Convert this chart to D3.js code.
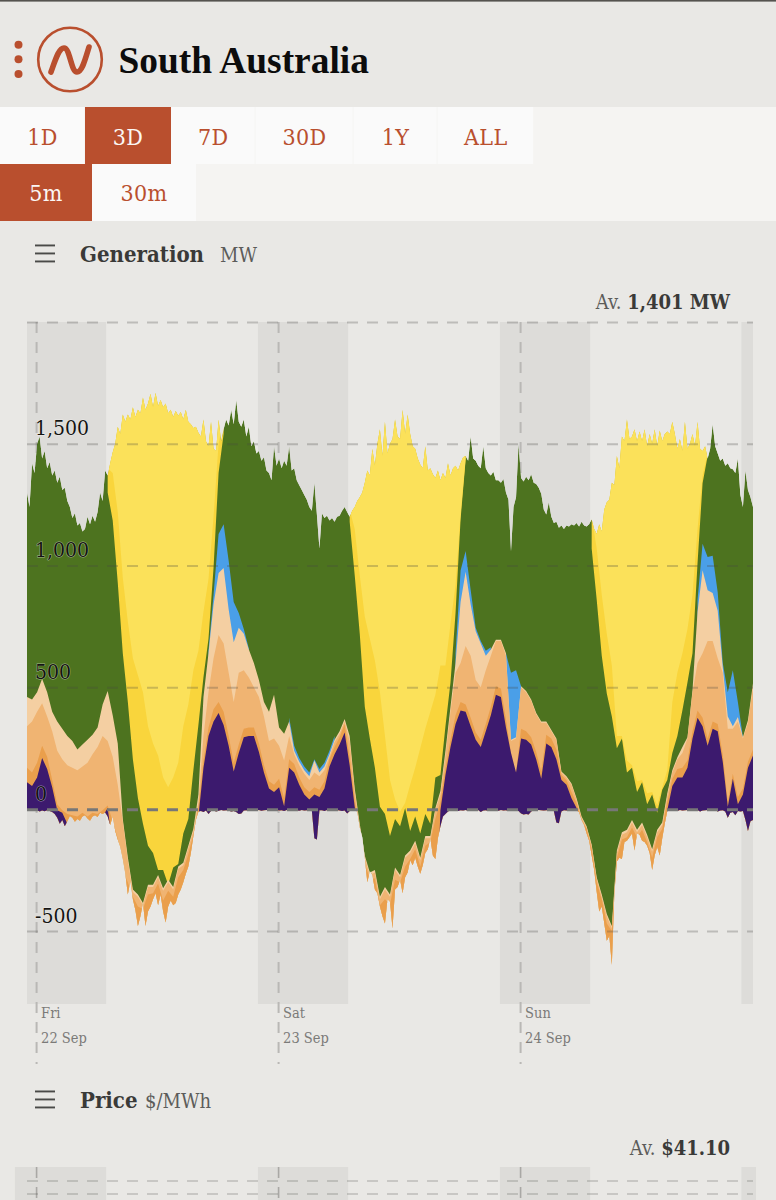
<!DOCTYPE html>
<html>
<head>
<meta charset="utf-8">
<script src="https://cdn.jsdelivr.net/npm/d3@7"></script>
<style>
  html, body { margin: 0; padding: 0; background: #e9e8e5; overflow: hidden; }
  svg { display: block; }
  .serif { font-family: "DejaVu Serif Condensed", "DejaVu Serif", serif; }
</style>
</head>
<body>
<svg id="page" width="776" height="1200"></svg>
<script>
// South Australia generation, three days at 15 and 30 minute resolution.
// Levels are cumulative MW: each array is the upper edge of that fuel in the stack.
const regionName = "South Australia";
const rangeButtons = ["1D", "3D", "7D", "30D", "1Y", "ALL"];
const intervalButtons = ["5m", "30m"];
const dayNames = ["Fri", "Sat", "Sun"];
const dayDates = ["22 Sep", "23 Sep", "24 Sep"];
const dayHours = [0, 24, 48];
const nightStartHours = [-1, 21.9, 45.9, 69.85];
const nightEndHours = [6.85, 30.85, 54.85, 71];
const yTicks = [-500, 0, 500, 1000, 1500, 2000];
const yLabels = [-500, 0, 500, 1000, 1500];

// Top of the whole stack, 15 minute steps
const totalLevel = [
  1300,1240,1420,1380,1500,1530,1440,1470,1400,1425,
  1370,1390,1340,1365,1310,1320,1265,1240,1195,1215,
  1165,1175,1140,1150,1200,1170,1205,1180,1220,1300,
  1265,1390,1370,1420,1465,1500,1570,1540,1620,1590,
  1620,1600,1650,1610,1640,1625,1690,1640,1665,1705,
  1650,1710,1655,1680,1650,1665,1625,1640,1610,1635,
  1615,1630,1600,1640,1590,1580,1565,1570,1545,1530,
  1600,1510,1490,1590,1480,1470,1600,1510,1560,1600,
  1575,1640,1580,1680,1590,1570,1600,1530,1570,1490,
  1510,1460,1470,1430,1445,1390,1380,1350,1490,1410,
  1440,1400,1430,1410,1490,1390,1400,1350,1330,1310,
  1290,1270,1240,1225,1340,1210,1070,1215,1195,1205,
  1185,1195,1180,1200,1205,1225,1240,1220,1200,1225,
  1240,1265,1280,1300,1340,1390,1370,1480,1410,1500,
  1560,1450,1590,1460,1500,1520,1600,1530,1520,1640,
  1540,1620,1540,1490,1480,1440,1415,1400,1490,1390,
  1400,1375,1360,1390,1350,1380,1360,1420,1370,1400,
  1410,1390,1420,1445,1450,1430,1530,1440,1430,1410,
  1400,1490,1400,1380,1370,1385,1350,1350,1340,1355,
  1300,1270,1060,1240,1280,1500,1360,1345,1365,1350,
  1375,1340,1335,1320,1295,1230,1210,1260,1200,1175,
  1180,1155,1165,1150,1165,1160,1170,1165,1175,1160,
  1180,1165,1160,1170,1190,1150,1130,1170,1140,1230,
  1260,1270,1340,1330,1450,1400,1530,1510,1600,1520,
  1530,1560,1510,1550,1510,1560,1490,1540,1500,1560,
  1490,1555,1510,1540,1550,1540,1590,1540,1480,1520,
  1470,1590,1480,1500,1540,1490,1590,1480,1470,1490,
  1440,1480,1580,1490,1460,1430,1440,1410,1420,1400,
  1395,1380,1440,1290,1240,1390,1310,1280,1240
];

// Bottom of the stack (net exports and charging), 15 minute steps
const baseLevel = [
  -3,-6,-4,-8,-5,-10,-6,-9,-5,-8,
  -12,-20,-35,-60,-45,-70,-50,-28,-35,-52,
  -40,-48,-30,-25,-38,-48,-30,-25,-32,-15,
  -20,-14,-30,-65,-30,-90,-125,-155,-205,-265,
  -350,-295,-370,-415,-480,-440,-385,-480,-420,-400,
  -370,-345,-395,-350,-420,-465,-400,-375,-395,-385,
  -350,-330,-300,-265,-235,-180,-110,-45,-10,-8,
  -12,-6,-20,-8,-5,-10,-7,-4,-6,-5,
  -6,-10,-8,-12,-20,-18,-6,-5,-8,-4,
  -5,-6,-4,-7,-5,-4,-6,-8,-5,-4,
  -6,-5,-8,-4,-5,-6,-4,-5,-7,-4,
  -6,-5,-4,-6,-120,-125,-5,-5,-8,-4,
  -6,-5,-6,-4,-6,-8,-6,-18,-8,-4,
  -5,-10,-75,-115,-200,-300,-255,-270,-330,-345,
  -400,-440,-470,-370,-380,-490,-330,-320,-290,-345,
  -280,-260,-210,-230,-200,-235,-265,-230,-180,-165,
  -120,-190,-205,-120,-70,-30,-20,-10,-5,-6,
  -4,-8,-5,-6,-4,-7,-5,-8,-5,-4,
  -12,-6,-5,-8,-4,-6,-5,-7,-4,-6,
  -5,-8,-4,-6,-5,-8,-18,-22,-20,-22,
  -10,-5,-6,-4,-5,-6,-5,-4,-8,-8,
  -55,-58,-10,-5,-6,-4,-5,-6,-5,-12,
  -45,-65,-100,-130,-190,-250,-340,-420,-400,-470,
  -540,-520,-640,-345,-215,-200,-205,-135,-130,-115,
  -100,-170,-100,-105,-130,-135,-150,-180,-250,-190,
  -155,-190,-120,-60,-8,-4,-6,-5,-8,-4,
  -6,-5,-4,-8,-5,-6,-4,-10,-6,-5,
  -4,-8,-6,-5,-10,-6,-5,-10,-35,-15,
  -12,-25,-8,-10,-8,-45,-90,-50,-45
];

// Everything below runs in 30 minute steps. null marks hours when a fuel is not running.
const importsLevel = [
  110,95,130,210,165,90,-5,-15,-60,-80,
  -80,-80,-80,-80,-80,-30,5,-150,-600,-600,
  -600,-600,-600,-600,-600,-600,-600,-600,-600,-600,
  -600,-600,-600,-600,-30,170,300,360,395,345,
  260,155,230,295,300,300,235,150,85,70,
  90,12,170,150,100,60,40,60,50,85,
  175,225,265,315,180,10,-120,-600,-600,-600,
  -600,-600,-600,-600,-600,-600,-600,-600,-600,-600,
  -600,-600,-5,140,255,350,405,400,340,285,
  255,320,385,470,460,335,230,150,290,285,
  265,205,125,270,255,205,120,100,45,5,
  -60,-150,-700,-700,-700,-700,-700,-700,-700,-700,
  -700,-700,-700,-700,-700,-700,-700,-5,95,130,
  130,170,290,375,340,260,330,320,195,10,
  125,20,60,170,220
];

const batteryLevel = [
  170,150,190,260,215,120,20,-5,-20,-25,
  -30,-15,-30,-15,-20,-5,15,-50,-120,-250,
  -300,-360,-400,-410,-350,-345,-305,-375,-335,-360,
  -280,-250,-185,-105,5,200,335,410,440,400,
  300,190,265,330,335,335,270,180,115,100,
  125,45,205,185,130,90,70,90,80,115,
  205,255,295,350,215,40,-90,-225,-285,-285,
  -395,-370,-390,-290,-300,-235,-205,-165,-235,-150,
  -135,-40,30,170,285,385,440,430,375,315,
  285,350,420,505,495,370,230,150,330,320,
  295,235,155,305,290,245,140,120,70,25,
  -45,-80,-165,-300,-370,-470,-500,-200,-125,-115,
  -75,-115,-85,-135,-200,-115,-80,30,125,165,
  170,200,320,405,375,290,360,350,225,30,
  145,50,85,195,245
];

const gasCcgtLevel = [
  340,360,400,435,380,320,240,205,180,170,
  160,175,190,225,255,300,280,215,100,-50,
  -210,-340,-360,-395,-320,-320,-280,-335,-300,-330,
  -245,-230,-160,-90,30,300,480,620,715,680,
  560,440,560,570,540,500,460,380,280,290,
  260,200,300,225,180,145,120,150,135,160,
  215,275,310,360,280,75,-70,-200,-270,-260,
  -370,-330,-360,-250,-280,-200,-180,-140,-210,-120,
  -120,-5,60,220,400,560,600,670,630,530,
  500,570,630,690,690,630,280,290,500,480,
  445,390,355,355,320,285,150,130,100,40,
  -35,-75,-150,-285,-360,-440,-490,-180,-105,-95,
  -55,-95,-65,-115,-175,-95,-65,55,150,205,
  230,290,480,600,640,690,690,620,560,330,
  330,360,290,355,500
];

const gasOcgtLevel = [
  460,450,480,535,480,400,360,330,300,280,
  245,265,285,305,335,430,485,385,270,-40,
  -197,-330,-350,-385,-310,-310,-270,-325,-290,-320,
  -235,-220,-150,-80,60,460,640,840,970,990,
  820,685,745,720,655,600,530,440,400,470,
  335,310,360,240,195,160,135,200,150,175,
  225,285,320,370,300,85,-60,-190,-260,-250,
  -360,-320,-350,-240,-270,-190,-170,-130,-200,-110,
  -110,5,75,240,420,600,850,975,840,730,
  680,630,655,695,695,640,285,295,505,485,
  450,395,360,360,325,290,155,135,105,45,
  -30,-70,-145,-280,-350,-430,-480,-170,-95,-85,
  -45,-85,-55,-105,-165,-85,-55,65,160,213,
  255,295,488,810,981,899,887,815,583,380,
  340,378,295,365,517
];

const dischargeLevel = [
  null,null,null,null,null,null,null,null,null,null,
  null,null,null,null,null,null,null,null,null,null,
  null,null,null,null,null,null,null,null,null,null,
  null,null,null,null,null,null,650,880,1130,1170,
  1020,850,805,740,660,null,null,null,null,null,
  null,null,375,260,210,175,150,205,165,190,
  240,300,null,null,null,null,null,null,null,null,
  null,null,null,null,null,null,null,null,null,null,
  null,null,null,null,null,640,980,1060,900,745,
  690,650,665,null,null,640,560,570,505,null,
  null,null,null,null,null,null,null,null,null,null,
  null,null,null,null,null,null,null,null,null,null,
  null,null,null,null,null,null,null,null,null,null,
  null,null,null,860,1090,1035,1040,890,600,480,
  570,440,295,null,null
];

const windLevel = [
  null,null,null,null,null,null,null,null,null,null,
  null,null,null,null,null,null,1300,1185,930,640,
  440,205,45,-60,-150,-180,-250,-250,-310,-240,
  -225,-100,-40,160,345,541,700,990,1380,1540,
  null,null,null,null,null,null,null,null,null,null,
  null,null,null,null,null,null,null,null,null,null,
  null,null,null,null,1180,960,720,420,290,170,
  10,-20,-110,-40,-70,5,-90,-30,-100,-20,
  -60,130,140,340,520,805,1190,1433,null,null,
  null,null,null,null,null,null,null,null,null,null,
  null,null,null,null,null,null,null,null,null,null,
  null,null,1070,860,630,475,380,250,290,150,
  170,70,110,20,60,-15,80,120,230,300,
  406,520,640,1010,1338,1450,null,null,null,null,
  null,null,null,null,null
];

const utilitySolarLevel = [
  null,null,null,null,null,null,null,null,null,null,
  null,null,null,null,null,null,1400,1380,1220,950,
  770,620,550,480,340,270,220,130,90,130,
  190,340,430,570,650,810,945,1200,1500,1600,
  null,null,null,null,null,null,null,null,null,null,
  null,null,null,null,null,null,null,null,null,null,
  null,null,null,null,1230,1150,960,790,700,610,
  480,300,120,40,-10,25,100,170,250,330,
  400,470,590,590,760,920,1210,1440,null,null,
  null,null,null,null,null,null,null,null,null,null,
  null,null,null,null,null,null,null,null,null,null,
  null,null,1200,1070,880,720,590,300,300,200,
  180,115,120,65,70,15,90,160,440,560,
  640,740,880,1150,1370,1460,null,null,null,null,
  null,null,null,null,null
];

const ink = "#b94f2e";
const startHour = -1, endHour = 71;
const dateAt = h => new Date(Date.UTC(2023, 8, 22) + h * 3600e3);

const svg = d3.select("#page");

// Scales shared by the generation and price panels
const x = d3.scaleUtc().domain([dateAt(startHour), dateAt(endHour)]).range([27, 753]);
const y = d3.scaleLinear().domain([-800, 2000]).range([1004, 322]);

// Turn an evenly stepped level array into [hour, level] pairs
const series = levels => levels.map((v, i) => [startHour + (endHour - startHour) * i / (levels.length - 1), v]);

/* ---------- header ---------- */
const header = svg.append("g");
header.append("rect").attr("width", 776).attr("height", 1.6).attr("fill", "#55534f");
[44.7, 59.2, 74].forEach(cy => header.append("circle").attr("cx", 18.5).attr("cy", cy).attr("r", 4).attr("fill", ink));
header.append("circle").attr("cx", 70).attr("cy", 59.5).attr("r", 31.8)
  .attr("fill", "none").attr("stroke", ink).attr("stroke-width", 2.6);
header.append("path").attr("d", "M51,72 C56,58 59,48 64,48 C70,48 71,72 77,72 C82,72 85,60 89,47")
  .attr("fill", "none").attr("stroke", ink).attr("stroke-width", 5.6).attr("stroke-linecap", "round");
header.append("text").text(regionName)
  .attr("x", 118.5).attr("y", 73).attr("font-family", "'Liberation Serif', serif")
  .attr("font-weight", 700).attr("font-size", 37.4).attr("fill", "#0c0c0c");

/* ---------- range and interval buttons ---------- */
const rangeEdges = [0, 85, 171, 255.5, 353.5, 437.5, 534];
const intervalEdges = [0, 92, 196];
const buttonText = (sel, cx, cyy, label, color) => sel.append("text").attr("class", "serif")
  .text(label).attr("x", cx).attr("y", cyy).attr("text-anchor", "middle")
  .attr("font-size", 23).attr("letter-spacing", 0.4).attr("fill", color);

svg.append("rect").attr("x", 0).attr("y", 107).attr("width", 776).attr("height", 114).attr("fill", "#f5f4f2");
rangeButtons.forEach((label, i) => {
  const on = label === "3D";
  svg.append("rect").attr("x", rangeEdges[i]).attr("y", 107)
    .attr("width", rangeEdges[i + 1] - rangeEdges[i] - (on ? 0 : 0.8)).attr("height", 57)
    .attr("fill", on ? ink : "#fafafa");
  buttonText(svg, (rangeEdges[i] + rangeEdges[i + 1]) / 2, 145, label, on ? "#fbf7f4" : ink);
});
intervalButtons.forEach((label, i) => {
  const on = label === "5m";
  svg.append("rect").attr("x", intervalEdges[i]).attr("y", 164)
    .attr("width", intervalEdges[i + 1] - intervalEdges[i]).attr("height", 57)
    .attr("fill", on ? ink : "#fafafa");
  buttonText(svg, (intervalEdges[i] + intervalEdges[i + 1]) / 2, 201, label, on ? "#fbf7f4" : ink);
});

/* ---------- panel titles ---------- */
function panelTitle(cy, title, titleX, unit, unitX) {
  [-8, 0, 8].forEach(d => svg.append("rect").attr("x", 35).attr("y", cy + d - 1)
    .attr("width", 20).attr("height", 1.9).attr("fill", "#4a4a48"));
  svg.append("text").attr("class", "serif").text(title).attr("x", titleX).attr("y", cy + 8)
    .attr("font-size", 22).attr("font-weight", 700).attr("fill", "#3a3a38");
  svg.append("text").attr("class", "serif").text(unit).attr("x", unitX).attr("y", cy + 8)
    .attr("font-size", 20).attr("fill", "#5c5c5a");
}
function average(cy, prefix, value) {
  const t = svg.append("text").attr("class", "serif").attr("x", 730).attr("y", cy)
    .attr("text-anchor", "end").attr("font-size", 20).attr("fill", "#5c5c5a");
  t.append("tspan").text(prefix + " ");
  t.append("tspan").text(value).attr("font-weight", 700).attr("fill", "#3a3a38");
}
panelTitle(253.5, "Generation", 80, "MW", 220);
panelTitle(1099.5, "Price", 80, "$/MWh", 145);
average(309, "Av.", "1,401 MW");
average(1155, "Av.", "$41.10");

/* ---------- night shading ---------- */
const nightFill = "#dddcd9";
nightStartHours.forEach((h, i) => {
  svg.append("rect").attr("x", x(dateAt(h))).attr("y", 322)
    .attr("width", x(dateAt(nightEndHours[i])) - x(dateAt(h))).attr("height", 682)
    .attr("fill", nightFill);
});

/* ---------- day markers ---------- */
dayHours.forEach((h, i) => {
  const px = x(dateAt(h)) - 0.5;
  svg.append("line").attr("x1", px).attr("x2", px).attr("y1", 322).attr("y2", 1064)
    .attr("stroke", "#b9b8b5").attr("stroke-width", 2).attr("stroke-dasharray", "11 9");
  svg.append("text").attr("class", "serif").text(dayNames[i]).attr("x", px + 4.5).attr("y", 1018)
    .attr("font-size", 14.5).attr("fill", "#7b7a78");
  svg.append("text").attr("class", "serif").text(dayDates[i]).attr("x", px + 4.5).attr("y", 1043)
    .attr("font-size", 14.5).attr("fill", "#7b7a78");
});

/* ---------- stacked generation ---------- */
const defs = svg.append("defs");
const outline = d3.line().x(d => x(dateAt(d[0]))).y(d => y(d[1]));
const stackPoints = series(totalLevel).concat(series(baseLevel).reverse());
defs.append("clipPath").attr("id", "stack-shape").append("path").attr("d", outline(stackPoints) + "Z");

const stack = svg.append("g").attr("clip-path", "url(#stack-shape)");

// Each fuel fills from its level down to the floor; the next fuel paints over it.
const below = d3.area().defined(d => d[1] !== null)
  .x(d => x(dateAt(d[0]))).y0(y(-800)).y1(d => y(d[1]));
const above = d3.area().defined(d => d[1] !== null)
  .x(d => x(dateAt(d[0]))).y0(y(2000)).y1(d => y(d[1]));

stack.append("path").attr("d", outline(stackPoints) + "Z").attr("fill", "#4d731f");
stack.append("path").attr("d", above(series(windLevel))).attr("fill", "#f9d53c");
stack.append("path").attr("d", above(series(utilitySolarLevel))).attr("fill", "#fbe15a");
stack.append("path").attr("d", below(series(dischargeLevel))).attr("fill", "#4a9fe8");
stack.append("path").attr("d", below(series(gasOcgtLevel))).attr("fill", "#f4cfa2");
stack.append("path").attr("d", below(series(gasCcgtLevel))).attr("fill", "#f0b472");
stack.append("path").attr("d", below(series(batteryLevel))).attr("fill", "#ea9f4c");
stack.append("path").attr("d", below(series(importsLevel))).attr("fill", "#3c1a6e");

/* ---------- value axis ---------- */
const grid = svg.append("g").attr("transform", "translate(27,0)")
  .call(d3.axisLeft(y).tickValues(yTicks).tickSize(-726).tickFormat(""));
grid.select(".domain").remove();
grid.selectAll("line")
  .attr("stroke", d => d === 0 ? "#777" : "rgba(70,70,66,0.27)")
  .attr("stroke-width", d => d === 0 ? 3 : 2)
  .attr("stroke-dasharray", "11 9");

const labels = svg.append("g").attr("transform", "translate(35,0)")
  .call(d3.axisRight(y).tickValues(yLabels).tickSize(0).tickPadding(0)
    .tickFormat(d => d3.format(",")(d).replace("\u2212", "-")));
labels.select(".domain").remove();
labels.selectAll("text").attr("class", "serif")
  .attr("font-size", 21).attr("fill", "#141412").attr("dy", "-0.42em")
  .style("font-family", '"DejaVu Serif Condensed", "DejaVu Serif", serif')
  .attr("stroke", "rgba(255,255,255,0.5)").attr("stroke-width", 0.9).attr("paint-order", "stroke");

/* ---------- start of the price panel ---------- */
const priceNightStart = [-2.2, 21.9, 45.9, 69.85];
const priceNightEnd = [6.85, 30.85, 54.85, 71.3];
priceNightStart.forEach((h, i) => {
  svg.append("rect").attr("x", x(dateAt(h))).attr("y", 1167)
    .attr("width", x(dateAt(priceNightEnd[i])) - x(dateAt(h))).attr("height", 33)
    .attr("fill", nightFill);
});
dayHours.forEach(h => {
  svg.append("line").attr("x1", x(dateAt(h)) - 0.5).attr("x2", x(dateAt(h)) - 0.5).attr("y1", 1167).attr("y2", 1200)
    .attr("stroke", "#a9a8a5").attr("stroke-width", 1.6).attr("stroke-dasharray", "11 9");
});
[1181, 1194].forEach(py => svg.append("line").attr("x1", 27).attr("x2", 753).attr("y1", py).attr("y2", py)
  .attr("stroke", "rgba(70,70,66,0.2)").attr("stroke-width", 2).attr("stroke-dasharray", "11 9"));
</script>
</body>
</html>
